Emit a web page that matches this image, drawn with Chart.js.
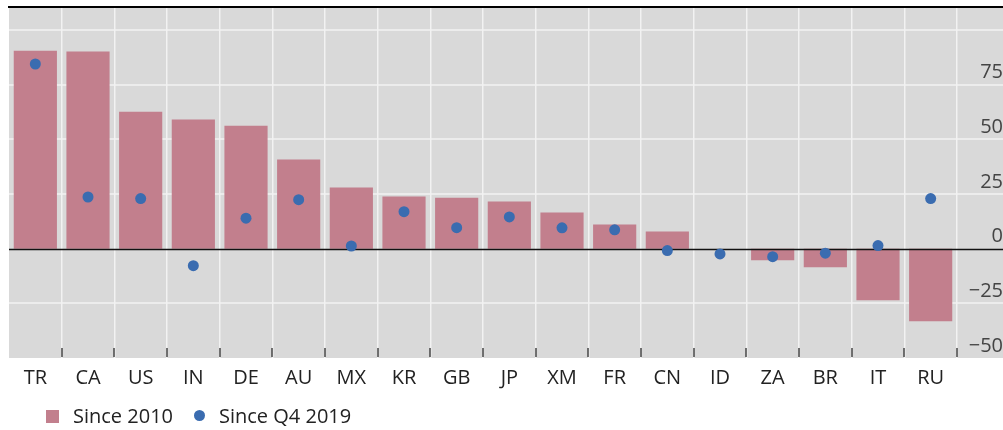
<!DOCTYPE html>
<html>
<head>
<meta charset="utf-8">
<script src="https://cdn.jsdelivr.net/npm/chart.js@4/dist/chart.umd.min.js"></script>
<style>
    body { margin: 0; background: #fff; font-family: "Open Sans", sans-serif; }
    .wrap { position: relative; width: 1003px; height: 430px; }
    .legend { position: absolute; left: 0; top: 404px; height: 24px; line-height: 24px; font-size: 20px; color: #222; }
    .legend span { position: absolute; white-space: nowrap; }
    .swatch { width: 13px; height: 13px; top: 6px; }
    .dot { width: 11px; height: 11px; top: 6px; border-radius: 50%; }
</style>
</head>
<body>
<div class="wrap">
    <canvas id="chart"></canvas>
    <div class="legend">
        <span class="swatch" style="left:46px;background:#c27f8d"></span>
        <span style="left:73px">Since 2010</span>
        <span class="dot" style="left:194px;background:#3a6cb0"></span>
        <span style="left:219px">Since Q4 2019</span>
    </div>
</div>
<script>
const CATEGORIES = ['TR', 'CA', 'US', 'IN', 'DE', 'AU', 'MX', 'KR', 'GB', 'JP', 'XM', 'FR', 'CN', 'ID', 'ZA', 'BR', 'IT', 'RU'];
const SINCE_2010 = [90.5, 90.1, 62.6, 59.0, 56.2, 40.7, 27.9, 23.8, 23.3, 21.5, 16.5, 11.0, 7.8, 0, -5.3, -8.5, -23.6, -33.2];
const SINCE_Q4_2019 = [84.4, 23.6, 22.9, -7.8, 13.9, 22.4, 1.2, 16.9, 9.6, 14.5, 9.5, 8.6, -0.9, -2.4, -3.7, -2.1, 1.4, 22.9];
const Y_TICKS = [-50, -25, 0, 25, 50, 75, 100];
const Y_TICK_LABELS = ['\u221250', '\u221225', '0', '25', '50', '75', ''];

const BAR_COLOR = '#c27f8d';
const DOT_COLOR = '#3a6cb0';
const PANEL = '#d9d9d9';
const GRID = '#f2f2f2';

// gray panel, full-width horizontal grid, zero line over bars, inner ticks
const panel = {
    id: 'panel',
    beforeDraw(chart) {
        const { ctx, chartArea: a, scales: { y } } = chart;
        ctx.save();
        ctx.fillStyle = PANEL;
        ctx.fillRect(a.left, a.top, chart.width - a.left, a.bottom - a.top);
        ctx.strokeStyle = GRID;
        ctx.lineWidth = 1.5;
        y.ticks.forEach(t => {
            if (t.value === 0 || t.value === Y_TICKS[0]) return;
            const py = Math.round(y.getPixelForValue(t.value));
            ctx.beginPath();
            ctx.moveTo(a.left, py);
            ctx.lineTo(chart.width, py);
            ctx.stroke();
        });
        ctx.restore();
    },
    afterDatasetDraw(chart, args) {
        if (args.index !== 0) return;
        const { ctx, chartArea: a, scales: { y } } = chart;
        const py = Math.round(y.getPixelForValue(0)) + 0.5;
        ctx.save();
        ctx.strokeStyle = '#111';
        ctx.lineWidth = 1.3;
        ctx.beginPath();
        ctx.moveTo(a.left, py);
        ctx.lineTo(chart.width, py);
        ctx.stroke();
        ctx.restore();
    },
    afterDraw(chart) {
        const { ctx, chartArea: a, scales: { x } } = chart;
        ctx.save();
        ctx.fillStyle = '#000';
        ctx.fillRect(a.left - 1, a.top - 2, chart.width - a.left + 1, 2);
        ctx.strokeStyle = '#444';
        ctx.lineWidth = 1.5;
        const step = x.getPixelForValue(1) - x.getPixelForValue(0);
        for (let i = 1; i <= CATEGORIES.length; i++) {
            const px = Math.round(x.getPixelForValue(i) - step / 2);
            ctx.beginPath();
            ctx.moveTo(px, a.bottom - 10);
            ctx.lineTo(px, a.bottom - 1);
            ctx.stroke();
        }
        ctx.restore();
    }
};

const ctx = document.getElementById('chart').getContext('2d');

new Chart(ctx, {
    data: {
        labels: CATEGORIES,
        datasets: [
            {
                type: 'bar',
                label: 'Since 2010',
                data: SINCE_2010,
                backgroundColor: BAR_COLOR,
                barPercentage: 0.82,
                categoryPercentage: 1,
                order: 2
            },
            {
                type: 'line',
                label: 'Since Q4 2019',
                data: SINCE_Q4_2019,
                showLine: false,
                pointRadius: 5.5,
                pointBackgroundColor: DOT_COLOR,
                pointBorderWidth: 0,
                order: 1
            }
        ]
    },
    options: {
        responsive: true,
        maintainAspectRatio: false,
        animation: false,
        layout: { padding: { left: 9, top: 8, right: 0, bottom: 0 } },
        plugins: {
            legend: { display: false },
            tooltip: { enabled: false }
        },
        scales: {
            x: {
                grid: {
                    offset: true,
                    color: c => c.index === 0 ? 'rgba(0,0,0,0)' : GRID,
                    lineWidth: 1.5,
                    drawTicks: false
                },
                border: { display: false },
                ticks: {
                    color: '#222',
                    padding: 8,
                    font: { family: 'Open Sans', size: 20 }
                },
                afterFit: s => { s.height = 72; s.paddingLeft = 0; s.paddingRight = 0; }
            },
            y: {
                position: 'right',
                min: -50,
                max: 110,
                afterBuildTicks: s => { s.ticks = Y_TICKS.map(v => ({ value: v })); },
                afterFit: s => { s.width = 46; s.paddingTop = 0; s.paddingBottom = 0; },
                grid: { display: false },
                border: { display: false },
                ticks: {
                    color: '#444',
                    crossAlign: 'far',
                    padding: 13,
                    labelOffset: -12,
                    font: { family: 'Open Sans', size: 20 },
                    callback: v => Y_TICK_LABELS[Y_TICKS.indexOf(v)]
                }
            }
        }
    },
    plugins: [panel]
});
</script>
</body>
</html>
